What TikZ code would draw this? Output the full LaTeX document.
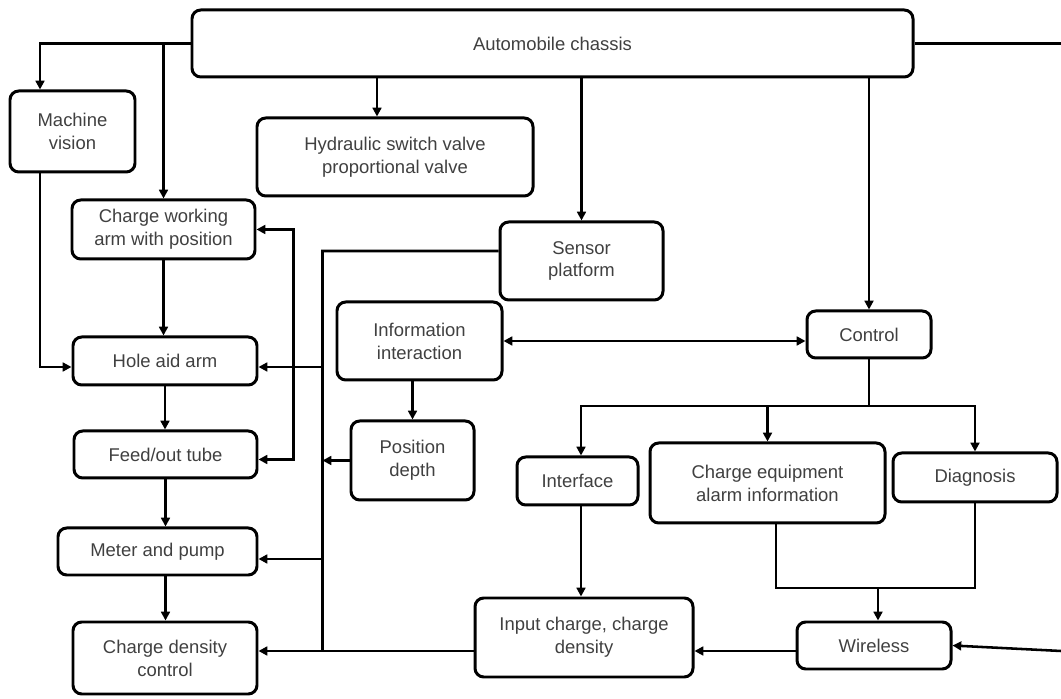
\documentclass[tikz,border=0pt]{standalone}
\usepackage{fontspec}
\setmainfont{Liberation Sans}
\usetikzlibrary{arrows.meta}

\begin{document}
\begin{tikzpicture}[>={Triangle[length=5pt,width=5pt]},
  box/.style={draw,line width=1.7pt,rounded corners=5pt,align=center,inner sep=2pt,text=black!75,font=\fontsize{10.5}{13}\selectfont},
  lnk/.style={line width=1.45pt}]
\useasboundingbox (0,0) rectangle (21.22,13.98);
\node[box,minimum width=14.42cm,minimum height=1.34cm] (chassis) at (11.05,13.11) {Automobile chassis};
\node[box,minimum width=2.5cm,minimum height=1.62cm] (vision) at (1.45,11.35) {Machine\\vision};
\node[box,minimum width=5.52cm,minimum height=1.56cm] (hyd) at (7.9,10.84) {Hydraulic switch valve\\proportional valve};
\node[box,minimum width=3.66cm,minimum height=1.18cm] (work) at (3.27,9.39) {Charge working\\arm with position};
\node[box,minimum width=3.26cm,minimum height=1.56cm] (sensor) at (11.63,8.76) {Sensor\\platform};
\node[box,minimum width=3.3cm,minimum height=1.56cm] (info) at (8.39,7.16) {Information\\interaction};
\node[box,minimum width=2.48cm,minimum height=0.94cm] (control) at (17.38,7.29) {Control};
\node[box,minimum width=3.68cm,minimum height=0.96cm] (hole) at (3.3,6.76) {Hole aid arm};
\node[box,minimum width=3.66cm,minimum height=0.94cm] (feed) at (3.31,4.89) {Feed/out tube};
\node[box,minimum width=2.46cm,minimum height=1.58cm] (pos) at (8.25,4.77) {Position\\depth};
\node[box,minimum width=2.42cm,minimum height=0.96cm] (iface) at (11.55,4.36) {Interface};
\node[box,minimum width=4.7cm,minimum height=1.6cm] (alarm) at (15.35,4.32) {Charge equipment\\alarm information};
\node[box,minimum width=3.28cm,minimum height=0.98cm] (diag) at (19.5,4.43) {Diagnosis};
\node[box,minimum width=3.98cm,minimum height=0.94cm] (meter) at (3.15,2.95) {Meter and pump};
\node[box,minimum width=3.68cm,minimum height=1.44cm] (density) at (3.3,0.82) {Charge density\\control};
\node[box,minimum width=4.36cm,minimum height=1.58cm] (input) at (11.68,1.23) {Input charge, charge\\density};
\node[box,minimum width=3.08cm,minimum height=0.94cm] (wire) at (17.48,1.07) {Wireless};
\coordinate (busT) at (6.45,8.96);
\coordinate (busB) at (6.45,0.96);
\coordinate (hub) at (17.38,5.86);
\coordinate (join) at (17.56,2.22);
\coordinate (edgeN) at (21.22,13.11);
\coordinate (edgeS) at (21.22,0.96);
\draw[lnk,->] (chassis.west) -| ([xshift=-0.65cm]vision.north);
\draw[lnk,->] (chassis.west -| work.north) -- (work.north);
\draw[lnk,->] ([xshift=-0.36cm]hyd.north |- chassis.south) -- ([xshift=-0.36cm]hyd.north);
\draw[lnk,->] (sensor.north |- chassis.south) -- (sensor.north);
\draw[lnk,->] (control.north |- chassis.south) -- (control.north);
\draw[lnk] (chassis.east) -- (edgeN);
\draw[lnk,->] ([xshift=-0.65cm]vision.south) |- ([yshift=-0.12cm]hole.west);
\draw[lnk,->] (work.south) -- (work.south |- hole.north);
\draw[lnk,->] (hole.south) -- (hole.south |- feed.north);
\draw[lnk,->] (feed.south) -- (feed.south |- meter.north);
\draw[lnk,->] (feed.south |- meter.south) -- (feed.south |- density.north);
\draw[lnk,<->] (work.east) -- ++(0.74,0) |- ([yshift=-0.1cm]feed.east);
\draw[lnk] ([yshift=0.2cm]sensor.west) -- (busT) -- (busB);
\draw[lnk,->] ([yshift=-0.12cm]busT |- hole.east) -- ([yshift=-0.12cm]hole.east);
\draw[lnk,->] ([yshift=-0.15cm]busT |- meter.east) -- ([yshift=-0.15cm]meter.east);
\draw[lnk,->] (input.west |- busB) -- (density.east |- busB);
\draw[lnk,->] (pos.west) -- (pos.west -| busT);
\draw[lnk,->] (pos.north |- info.south) -- (pos.north);
\draw[lnk,<->] (info.east) -- (info.east -| control.west);
\draw[lnk] (control.south) -- (hub);
\draw[lnk,->] (hub) -| ([xshift=0.07cm]iface.north);
\draw[lnk,->] (hub) -| (diag.north);
\draw[lnk,->] (alarm.north |- hub) -- (alarm.north);
\draw[lnk,->] ([xshift=0.07cm]iface.south) -- ([xshift=0.07cm]iface.south |- input.north);
\draw[lnk] ([xshift=0.17cm]alarm.south) |- (diag.south |- join) -- (diag.south);
\draw[lnk,->] (join) -- (join |- wire.north);
\draw[lnk,->] (wire.west |- busB) -- (input.east |- busB);
\draw[lnk,->] (edgeS) -- (wire.east);
\end{tikzpicture}
\end{document}
